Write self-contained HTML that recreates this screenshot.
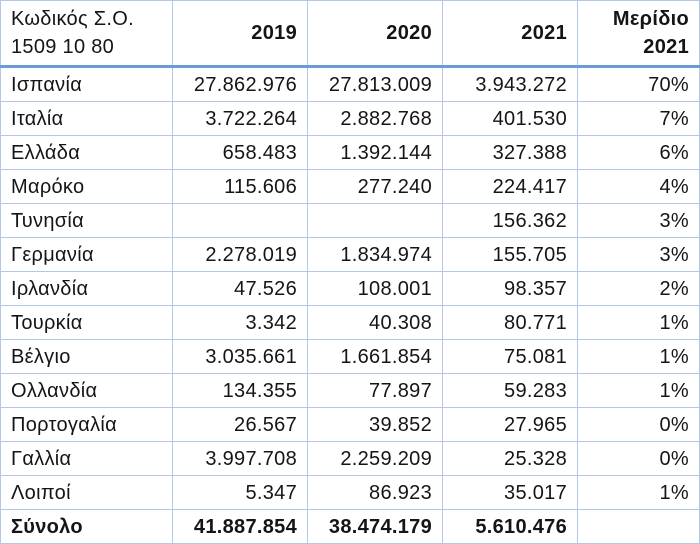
<!DOCTYPE html>
<html><head><meta charset="utf-8"><style>
html,body{margin:0;padding:0;background:#fff;}
body{width:700px;height:544px;overflow:hidden;}
table{position:absolute;left:0;top:0;border-collapse:collapse;table-layout:fixed;width:699px;
font-family:"Liberation Sans","DejaVu Sans",sans-serif;font-size:20px;color:#151515;letter-spacing:0.3px;}
td{border:1px solid #b4c7e7;padding:0 10px 0 8px;height:33px;line-height:24px;text-align:right;white-space:nowrap;overflow:hidden;}
td:first-child{text-align:left;padding-left:10px;}
tr.h td{height:66px;font-weight:bold;vertical-align:middle;padding-top:0;padding-bottom:0;line-height:28px;border-bottom:3px solid #6a9bd3;box-sizing:border-box;}
tr.h td:first-child{font-weight:normal;}
tr.t td{font-weight:bold;}
</style></head><body>
<table>
<colgroup><col style="width:172px"><col style="width:135px"><col style="width:135px"><col style="width:135px"><col style="width:122px"></colgroup>
<tr class="h"><td>Κωδικός Σ.Ο.<br>1509 10 80</td><td>2019</td><td>2020</td><td>2021</td><td>Μερίδιο<br>2021</td></tr>
<tr><td>Ισπανία</td><td>27.862.976</td><td>27.813.009</td><td>3.943.272</td><td>70%</td></tr>
<tr><td>Ιταλία</td><td>3.722.264</td><td>2.882.768</td><td>401.530</td><td>7%</td></tr>
<tr><td>Ελλάδα</td><td>658.483</td><td>1.392.144</td><td>327.388</td><td>6%</td></tr>
<tr><td>Μαρόκο</td><td>115.606</td><td>277.240</td><td>224.417</td><td>4%</td></tr>
<tr><td>Τυνησία</td><td></td><td></td><td>156.362</td><td>3%</td></tr>
<tr><td>Γερμανία</td><td>2.278.019</td><td>1.834.974</td><td>155.705</td><td>3%</td></tr>
<tr><td>Ιρλανδία</td><td>47.526</td><td>108.001</td><td>98.357</td><td>2%</td></tr>
<tr><td>Τουρκία</td><td>3.342</td><td>40.308</td><td>80.771</td><td>1%</td></tr>
<tr><td>Βέλγιο</td><td>3.035.661</td><td>1.661.854</td><td>75.081</td><td>1%</td></tr>
<tr><td>Ολλανδία</td><td>134.355</td><td>77.897</td><td>59.283</td><td>1%</td></tr>
<tr><td>Πορτογαλία</td><td>26.567</td><td>39.852</td><td>27.965</td><td>0%</td></tr>
<tr><td>Γαλλία</td><td>3.997.708</td><td>2.259.209</td><td>25.328</td><td>0%</td></tr>
<tr><td>Λοιποί</td><td>5.347</td><td>86.923</td><td>35.017</td><td>1%</td></tr>
<tr class="t"><td>Σύνολο</td><td>41.887.854</td><td>38.474.179</td><td>5.610.476</td><td></td></tr>
</table>
</body></html>
